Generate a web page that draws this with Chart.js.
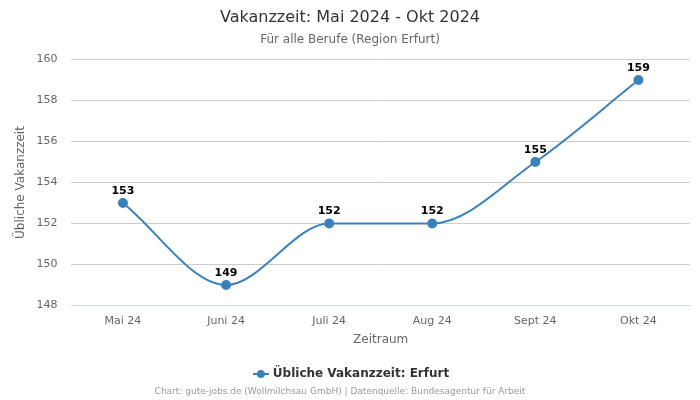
<!DOCTYPE html>
<html>
<head>
<meta charset="utf-8">
<script src="https://cdn.jsdelivr.net/npm/chart.js@4"></script>
<style>
  html, body { margin: 0; padding: 0; background: #fff; }
  #wrap { width: 700px; height: 400px; }
</style>
</head>
<body>
<div id="wrap"><canvas id="chart"></canvas></div>
<script>
const months = ['Mai 24', 'Juni 24', 'Juli 24', 'Aug 24', 'Sept 24', 'Okt 24'];
const vakanzzeit = [153, 149, 152, 152, 155, 159];
const yTicks = [148, 150, 152, 154, 156, 158, 160];

const lineColor = '#3a81ba';
const fontFamily = '"DejaVu Sans", sans-serif';

// Legendensymbol: Linie mit Punkt
function legendSymbol() {
    const c = document.createElement('canvas');
    c.width = 16; c.height = 10;
    const g = c.getContext('2d');
    g.strokeStyle = lineColor;
    g.lineWidth = 2;
    g.beginPath();
    g.moveTo(0, 5); g.lineTo(16, 5);
    g.stroke();
    g.fillStyle = lineColor;
    g.beginPath();
    g.arc(8, 5, 4, 0, Math.PI * 2);
    g.fill();
    return c;
}

// Werte über den Punkten
const valueLabels = {
    id: 'valueLabels',
    afterDatasetsDraw(chart) {
        const ctx = chart.ctx;
        const meta = chart.getDatasetMeta(0);
        ctx.save();
        ctx.font = 'bold 11px ' + fontFamily;
        ctx.fillStyle = '#000';
        ctx.textAlign = 'center';
        ctx.textBaseline = 'middle';
        meta.data.forEach((pt, i) => {
            ctx.fillText(String(vakanzzeit[i]), pt.x, pt.y - 12);
        });
        ctx.restore();
    }
};

// Legende etwas nach rechts rücken
const legendShift = {
    id: 'legendShift',
    afterLayout(chart) {
        chart.legend.left += 2;
        chart.legend.right += 2;
    }
};

// Quellenangabe unten
const credits = {
    id: 'credits',
    afterDraw(chart) {
        const ctx = chart.ctx;
        ctx.save();
        ctx.font = '9px ' + fontFamily;
        ctx.fillStyle = '#999';
        ctx.textAlign = 'center';
        ctx.textBaseline = 'middle';
        ctx.fillText('Chart: gute-jobs.de (Wollmilchsau GmbH) | Datenquelle: Bundesagentur für Arbeit', 340, 392);
        ctx.restore();
    }
};

new Chart(document.getElementById('chart').getContext('2d'), {
    type: 'line',
    data: {
        labels: months,
        datasets: [{
            label: 'Übliche Vakanzzeit: Erfurt',
            data: vakanzzeit,
            borderColor: lineColor,
            backgroundColor: lineColor,
            borderWidth: 2,
            pointRadius: 4,
            pointHoverRadius: 4,
            cubicInterpolationMode: 'monotone',
            fill: false
        }]
    },
    options: {
        responsive: true,
        maintainAspectRatio: false,
        animation: false,
        layout: { padding: { left: 0, right: 0, top: 1, bottom: 10 } },
        plugins: {
            title: {
                display: true,
                text: 'Vakanzzeit: Mai 2024 - Okt 2024',
                color: '#333',
                font: { family: fontFamily, size: 16, weight: 'normal' },
                padding: { top: 7, bottom: 4 }
            },
            subtitle: {
                display: true,
                text: 'Für alle Berufe (Region Erfurt)',
                color: '#666',
                font: { family: fontFamily, size: 12 },
                padding: { top: 1, bottom: 13 }
            },
            legend: {
                position: 'bottom',
                labels: {
                    usePointStyle: true,
                    pointStyle: legendSymbol(),
                    color: '#333',
                    font: { family: fontFamily, size: 12, weight: 'bold' },
                    padding: 14
                }
            },
            tooltip: { enabled: false }
        },
        scales: {
            x: {
                offset: true,
                grid: { display: false, drawTicks: false },
                border: { display: true, color: '#ccd6eb' },
                ticks: { color: '#666', font: { family: fontFamily, size: 11 }, padding: 9 },
                title: {
                    display: true,
                    text: 'Zeitraum',
                    color: '#666',
                    font: { family: fontFamily, size: 12 },
                    padding: { top: -4, bottom: 7 }
                }
            },
            y: {
                min: yTicks[0],
                max: yTicks[yTicks.length - 1],
                afterBuildTicks(axis) {
                    axis.ticks = yTicks.map(v => ({ value: v }));
                },
                grid: { color: '#cccccc', drawTicks: false },
                border: { display: false },
                ticks: { color: '#666', font: { family: fontFamily, size: 11 }, padding: 14 },
                title: {
                    display: true,
                    text: 'Übliche Vakanzzeit',
                    color: '#666',
                    font: { family: fontFamily, size: 12 },
                    padding: { top: 14, bottom: -6 }
                }
            },
            // leerer Rand rechts neben der Zeichenfläche
            yRight: {
                position: 'right',
                grid: { display: false },
                border: { display: false },
                ticks: { display: false },
                afterFit(axis) { axis.width = 10; }
            }
        }
    },
    plugins: [valueLabels, legendShift, credits]
});
</script>
</body>
</html>
